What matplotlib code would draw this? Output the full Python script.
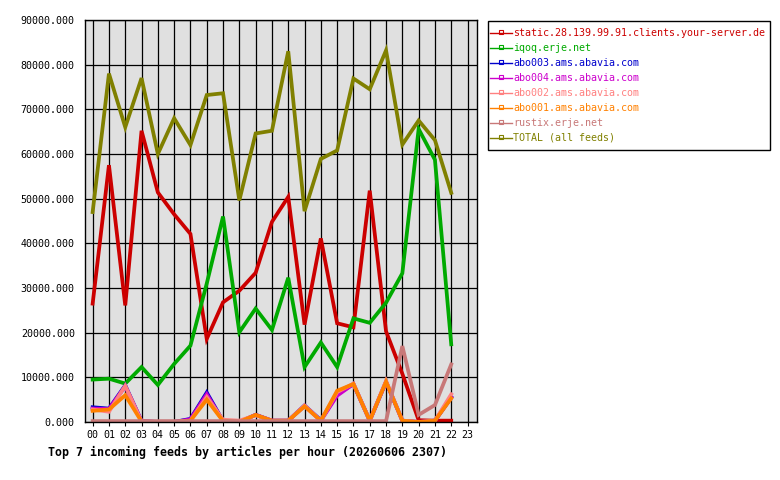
import matplotlib
matplotlib.use("Agg")
import matplotlib.pyplot as plt
from matplotlib.lines import Line2D
from matplotlib.patches import Rectangle

hours = list(range(23))
hour_labels = ["%02d" % h for h in range(24)]

static = [26500, 57500, 26100, 65200, 51400, 46500, 42100, 18600, 26800, 29400, 33400,
          44800, 50400, 21800, 41100, 22100, 21200, 51800, 20300, 10800, 400, 300, 300]
iqoq = [9500, 9700, 8600, 12300, 8300, 13000, 17100, 31000, 46000, 20100, 25400,
        20600, 32300, 12300, 17800, 12300, 23200, 22200, 26700, 33300, 65600, 58700, 17400]
abo003 = [3300, 3000, 8200, 200, 0, 0, 700, 6600, 200, 0, 1600,
          300, 300, 3700, 400, 6200, 8500, 300, 9000, 300, 0, 300, 5500]
abo004 = [3000, 2900, 8000, 200, 0, 0, 600, 6200, 200, 0, 1600,
          300, 300, 3600, 300, 5900, 8500, 300, 9000, 300, 0, 300, 5500]
abo002 = [2800, 2300, 8100, 100, 0, 0, 300, 5600, 500, 300, 1500,
          300, 300, 3700, 300, 6700, 8600, 300, 9200, 300, 0, 300, 6200]
abo001 = [2500, 2800, 6000, 100, 0, 0, 300, 5000, 200, 0, 1600,
          300, 300, 3500, 300, 7000, 8500, 300, 9000, 300, 0, 300, 5300]
rustix = [200, 200, 200, 200, 200, 200, 200, 200, 200, 200, 200,
          200, 200, 200, 200, 200, 200, 200, 200, 17000, 1600, 3800, 12900]
total = [47000, 78000, 66000, 77000, 60000, 68000, 62000, 73200, 73600, 49600, 64600,
         65200, 83000, 47200, 58900, 60800, 76900, 74500, 83200, 62100, 67500, 63100, 51300]

names = ["static.28.139.99.91.clients.your-server.de", "iqoq.erje.net",
         "abo003.ams.abavia.com", "abo004.ams.abavia.com", "abo002.ams.abavia.com",
         "abo001.ams.abavia.com", "rustix.erje.net", "TOTAL (all feeds)"]
series = [static, iqoq, abo003, abo004, abo002, abo001, rustix, total]
colors = ["#cc0000", "#00aa00", "#0000cc", "#cc00cc", "#ff8080", "#ff8000", "#c87878", "#808000"]

W, H = 780, 480
mono = "DejaVu Sans Mono"
fig = plt.figure(figsize=(7.8, 4.8), dpi=100)
ax = fig.add_axes([84.5/W, 1-422/H, (476.5-84.5)/W, (422-20)/H])
ax.set_facecolor("#e0e0e0")

for vals, c in zip(series, colors):
    ax.plot(hours, vals, color=c, lw=2.7, solid_joinstyle="miter")

ax.set_xlim(-0.5, 23.55)
ax.set_ylim(0, 90000)
ax.set_xticks(range(24))
ax.set_xticklabels(hour_labels, fontfamily=mono, fontsize=7.2)
yt = list(range(0, 90001, 10000))
ax.set_yticks(yt)
ax.set_yticklabels(["%d.000" % v for v in yt], fontfamily=mono, fontsize=7.2)
ax.tick_params(axis="x", length=3, width=0.8, pad=3, direction="out")
ax.tick_params(axis="y", length=0, pad=7)
ax.grid(True, color="black", lw=0.9)
ax.set_axisbelow(True)
for s in ax.spines.values():
    s.set_linewidth(1.0)

# legend box (figure pixel coords converted to fractions)
fig.add_artist(Rectangle((487.5/W, 1-150/H), (770-487.5)/W, (150-20.5)/H,
                         transform=fig.transFigure, fill=False, ec="black", lw=1.0))
for i, (name, c) in enumerate(zip(names, colors)):
    yy = 1 - (33 + 15*i)/H
    fig.add_artist(Line2D([490/W, 512/W], [yy, yy], transform=fig.transFigure,
                          color=c, lw=1.0))
    fig.add_artist(Line2D([501/W], [yy + 1/H], transform=fig.transFigure, color=c,
                          marker="s", ms=2.2, mfc="none", mew=0.8, lw=0))
    fig.text(513/W, yy, name, color=c, fontfamily=mono, fontsize=7.2,
             va="center", ha="left")

fig.text(48/W, 1-452/H, "Top 7 incoming feeds by articles per hour (20260606 2307)",
         fontfamily=mono, fontsize=8.4, fontweight="bold", va="center", ha="left")

fig.savefig("out.png", dpi=100)
